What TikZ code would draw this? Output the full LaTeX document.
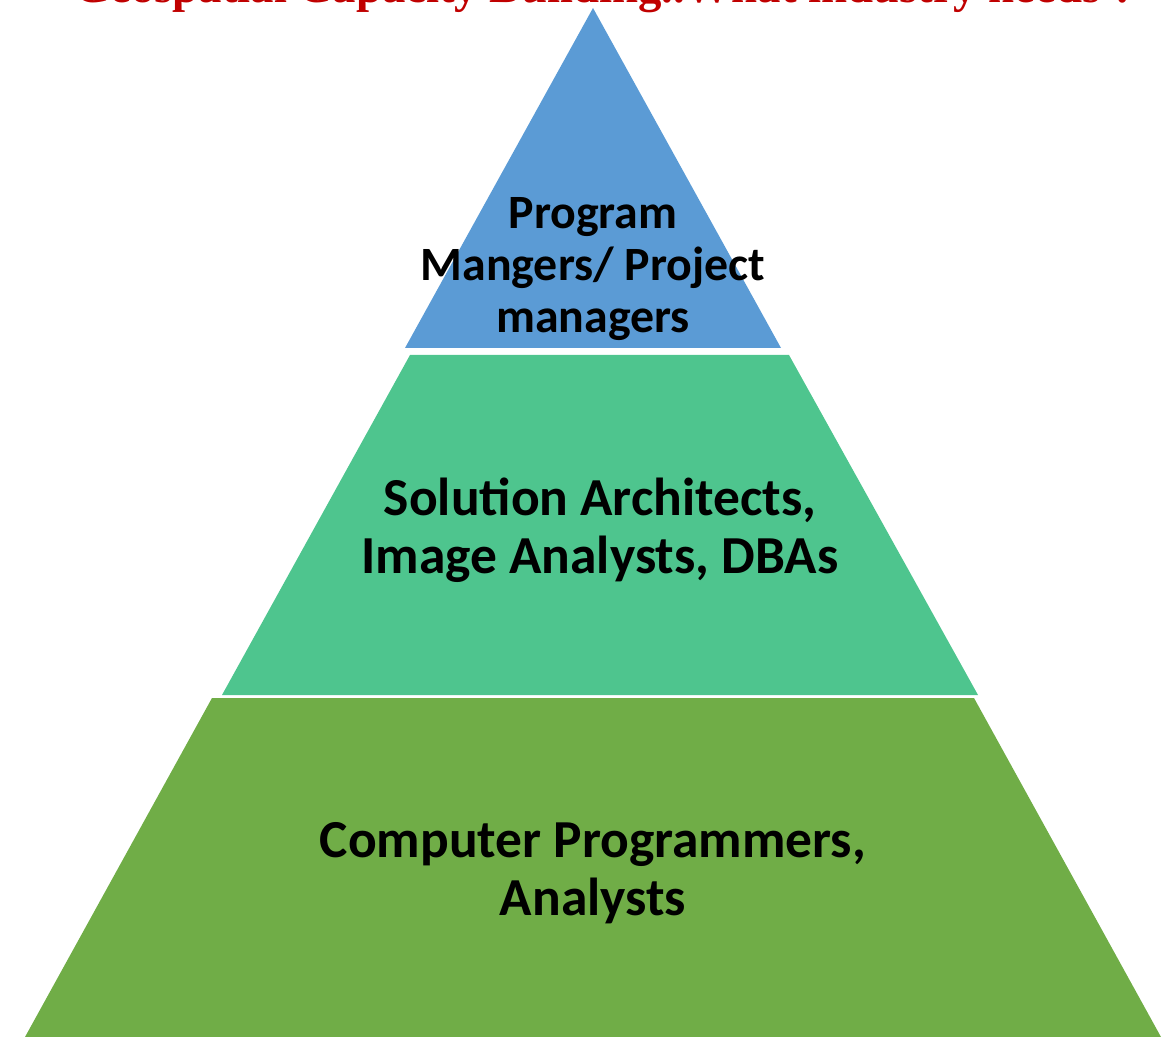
\documentclass[tikz,border=0pt]{standalone}
\usepackage{fontspec}
\usepackage{xcolor}
\usepackage{tikz}
\setmainfont{Carlito}
\newfontfamily\titlefont{Liberation Serif}
\definecolor{topblue}{HTML}{5B9BD5}
\definecolor{midgreen}{HTML}{4EC58E}
\definecolor{botgreen}{HTML}{70AD47}
\definecolor{titlered}{HTML}{C00000}

\begin{document}
\begin{tikzpicture}[x=0.01cm,y=-0.01cm]
\tikzstyle{every node}+=[inner sep=0pt]
\tikzstyle{layertext}=[align=center,font=\bfseries\fontsize{15.2}{16.4}\selectfont]
\useasboundingbox (0,0) rectangle (1173,1037);
% title, cut at the top edge
\draw (605,3) node [anchor=base,text=titlered,font=\titlefont\bfseries\fontsize{13.3}{15}\selectfont] (title) {Geospatial Capacity Building..What industry needs ?};
% the three layers
\fill [topblue] (593,8) -- (781,348) -- (405,348) -- cycle;
\fill [midgreen] (410,355) -- (789,355) -- (978,695) -- (222,695) -- cycle;
\fill [botgreen] (212,698) -- (974,698) -- (1161,1037) -- (25,1037) -- cycle;
% labels
\draw (593,269) node [layertext,font=\bfseries\fontsize{13.6}{14.9}\selectfont] (top) {Program\\Mangers/ Project\\managers};
\draw (600,530) node [layertext] (mid) {Solution Architects,\\Image Analysts, DBAs};
\draw (593,873) node [layertext] (bot) {Computer Programmers,\\Analysts};
\end{tikzpicture}
\end{document}
